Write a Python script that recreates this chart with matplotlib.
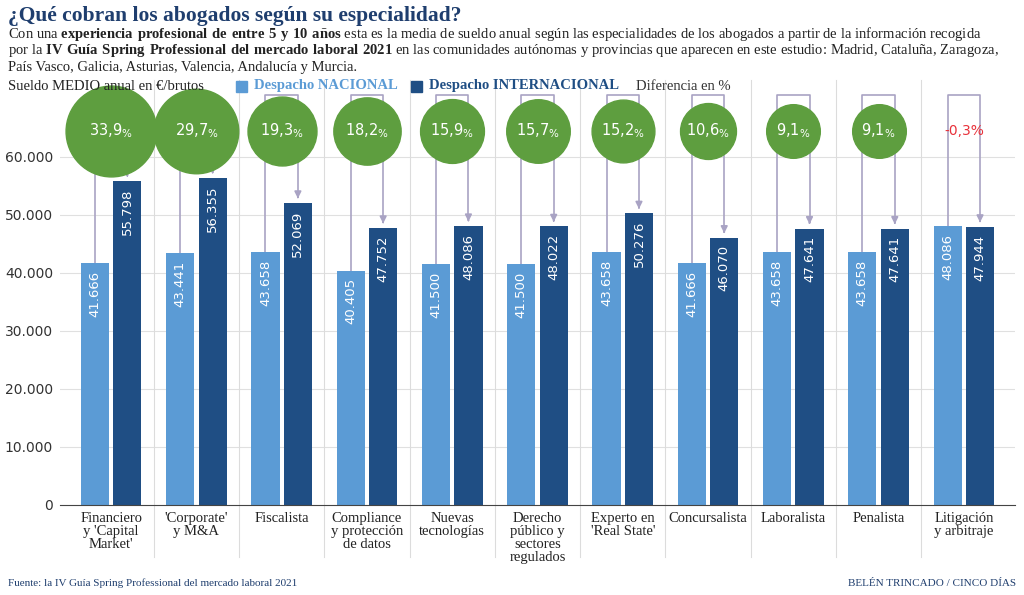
import matplotlib
matplotlib.use('Agg')
from matplotlib import pyplot as plt

categorias = ["Financiero\ny 'Capital\nMarket'", "'Corporate'\ny M&A", "Fiscalista",
              "Compliance\ny protección\nde datos", "Nuevas\ntecnologías",
              "Derecho\npúblico y\nsectores\nregulados", "Experto en\n'Real State'",
              "Concursalista", "Laboralista", "Penalista", "Litigación\ny arbitraje"]
nacional = [41666, 43441, 43658, 40405, 41500, 41500, 43658, 41666, 43658, 43658, 48086]
internacional = [55798, 56355, 52069, 47752, 48086, 48022, 50276, 46070, 47641, 47641, 47944]
diferencia = [33.9, 29.7, 19.3, 18.2, 15.9, 15.7, 15.2, 10.6, 9.1, 9.1, -0.3]

def fmt(v):
    return "{:,}".format(v).replace(",", ".")

C_NAC = '#5b9bd5'
C_INT = '#1f4e84'
C_GREEN = '#5e9e3f'
C_LINE = '#a9a3c4'
C_TEXT = '#1f3e6e'

plt.rcParams['font.family'] = ['Liberation Serif', 'DejaVu Serif']
plt.rcParams['mathtext.fontset'] = 'custom'
plt.rcParams['mathtext.bf'] = 'Liberation Serif:bold'
plt.rcParams['mathtext.rm'] = 'Liberation Serif'
fig = plt.figure(figsize=(10.24, 5.95), dpi=100)
ax = fig.add_axes([60/1024, 90/595, 955/1024, 425/595])

n = len(categorias)
w = 0.33
ymax = 60000 * (505 - 80) / 348.0
ax.set_xlim(-0.6, n - 0.4)
ax.set_ylim(0, ymax)
for y in range(10000, 70000, 10000):
    ax.axhline(y, color='#e0e0e0', lw=0.8, zorder=0)
for i in range(n - 1):
    ax.plot([i + 0.5, i + 0.5], [-9000, ymax], color='#dcdcdc', lw=0.8, zorder=0, clip_on=False)

y_circ = 60000 * (505 - 131) / 348.0
top = 60000 * (505 - 95) / 348.0
for i in range(n):
    xn, xi = i - 0.19, i + 0.19
    ax.bar(xn, nacional[i], w, color=C_NAC, zorder=2)
    ax.bar(xi, internacional[i], w, color=C_INT, zorder=2)
    ax.text(xn, nacional[i] - 1300, fmt(nacional[i]), rotation=90, ha='center', va='top',
            color='white', fontsize=9.5, family='DejaVu Sans', zorder=3)
    ax.text(xi, internacional[i] - 1300, fmt(internacional[i]), rotation=90, ha='center', va='top',
            color='white', fontsize=9.5, family='DejaVu Sans', zorder=3)
    # bracket
    ax.plot([xn, xn, xi, xi], [nacional[i], top, top, internacional[i] + 1200],
            color=C_LINE, lw=1.2, zorder=1)
    ax.annotate('', xy=(xi, internacional[i] + 300), xytext=(xi, internacional[i] + 1500),
                arrowprops=dict(arrowstyle='-|>', color=C_LINE, lw=1.2), zorder=1)
    d = diferencia[i]
    txt = ("%.1f" % d).replace('.', ',')
    if d > 0:
        r = (20 + 0.75 * d) * 0.72
        ax.scatter([i], [y_circ], s=(2 * r) ** 2, color=C_GREEN, zorder=4, clip_on=False)
        ax.text(i, y_circ, txt + '$\\mathregular{_{\\%}}$', ha='center', va='center', color='white',
                fontsize=10.5, family='DejaVu Sans', zorder=5)
    else:
        ax.text(i, y_circ, txt + '%', ha='center', va='center', color='#e8313a',
                fontsize=10, family='DejaVu Sans', zorder=5)

ax.set_yticks(range(0, 70000, 10000))
ax.set_yticklabels([fmt(v) for v in range(0, 70000, 10000)], fontsize=10, color='#333333',
                   family='DejaVu Sans')
ax.set_xticks(range(n))
ax.set_xticklabels(categorias, fontsize=10.5, color='#222222', va='top', linespacing=1.0)
ax.tick_params(length=0, pad=5)
for s in ['top', 'right', 'left']:
    ax.spines[s].set_visible(False)
ax.spines['bottom'].set_color('#444444')

fig.text(8/1024, 1 - 16/595, "¿Qué cobran los abogados según su especialidad?", fontsize=15.5,
         fontweight='bold', color=C_TEXT, va='center')
lines = ["Con una $\\bf{experiencia\\ profesional\\ de\\ entre\\ 5\\ y\\ 10\\ años}$ esta es la media de sueldo anual según las especialidades de los abogados a partir de la información recogida",
         "por la $\\bf{IV\\ Guía\\ Spring\\ Professional\\ del\\ mercado\\ laboral\\ 2021}$ en las comunidades autónomas y provincias que aparecen en este estudio: Madrid, Cataluña, Zaragoza,",
         "País Vasco, Galicia, Asturias, Valencia, Andalucía y Murcia."]
for k, ln in enumerate(lines):
    fig.text(8/1024, 1 - (34 + 16.5 * k)/595, ln, fontsize=10.5, color='#222222', va='center')

fig.text(8/1024, 1 - 86/595, "Sueldo MEDIO anual en €/brutos", fontsize=10.5, color='#222222', va='center')
fig.patches.append(plt.Rectangle((236/1024, 1 - 92/595), 11/1024, 11/595, color=C_NAC, transform=fig.transFigure))
fig.text(254/1024, 1 - 86/595, "Despacho NACIONAL", fontsize=10.5, color=C_NAC, fontweight='bold', va='center')
fig.patches.append(plt.Rectangle((411/1024, 1 - 92/595), 11/1024, 11/595, color=C_INT, transform=fig.transFigure))
fig.text(429/1024, 1 - 86/595, "Despacho INTERNACIONAL", fontsize=10.5, color=C_INT, fontweight='bold', va='center')
fig.text(636/1024, 1 - 86/595, "Diferencia en %", fontsize=10.5, color='#333333', va='center')

fig.text(8/1024, 1 - 583/595, "Fuente: la IV Guía Spring Professional del mercado laboral 2021", fontsize=8,
         color=C_TEXT, va='center')
fig.text(1016/1024, 1 - 583/595, "BELÉN TRINCADO / CINCO DÍAS", fontsize=8, color=C_TEXT, va='center', ha='right')

fig.savefig('out.png', dpi=100)
